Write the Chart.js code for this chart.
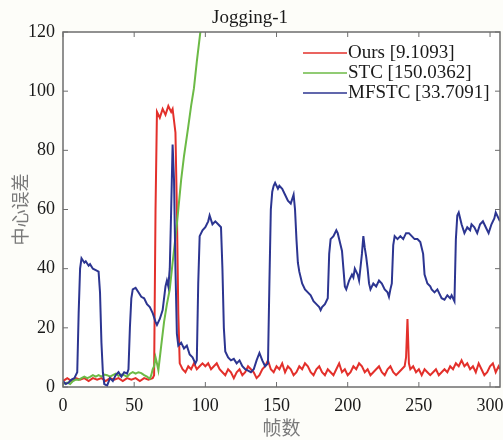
<!DOCTYPE html>
<html>
<head>
<meta charset="utf-8">
<script src="https://cdn.jsdelivr.net/npm/chart.js@4.4.0/dist/chart.umd.min.js"></script>
<style>
  html, body { margin: 0; padding: 0; background: #fdfdf9; }
  #wrap { width: 503px; height: 440px; }
</style>
</head>
<body>
<div id="wrap"><canvas id="jogChart"></canvas></div>
<script>
const chartTitle = 'Jogging-1';
const xTitle = '帧数';
const yTitle = '中心误差';
const xTicks = [0, 50, 100, 150, 200, 250, 300];
const yTicks = [0, 20, 40, 60, 80, 100, 120];

const seriesNames = ['Ours [9.1093]', 'STC [150.0362]', 'MFSTC [33.7091]'];
const seriesColors = ['#e3302b', '#6cba46', '#2c3591'];

// Ours
const framesOurs = [0, 3, 6, 9, 12, 15, 18, 21, 24, 27, 30, 33, 36, 39, 42, 45, 48, 51, 54, 57, 60, 63, 64,
  65, 66, 68, 70, 72, 74, 76, 77, 78, 79, 80, 81, 82, 84, 86, 88, 90, 92, 94, 96, 98, 100, 102, 104, 106,
  108, 110, 112, 114, 116, 118, 120, 122, 124, 126, 128, 130, 132, 134, 136, 138, 140, 142, 144, 146, 148,
  150, 152, 154, 156, 158, 160, 162, 164, 166, 168, 170, 172, 174, 176, 178, 180, 182, 184, 186, 188, 190,
  192, 194, 196, 198, 200, 202, 204, 206, 208, 210, 212, 214, 216, 218, 220, 222, 224, 226, 228, 230, 232,
  234, 236, 238, 240, 241, 242, 243, 244, 246, 248, 250, 252, 254, 256, 258, 260, 262, 264, 266, 268, 270,
  272, 274, 276, 278, 280, 282, 284, 286, 288, 290, 292, 294, 296, 298, 300, 302, 304, 306, 307];
const errOurs = [2, 3, 2, 3, 2.5, 3, 2, 3, 2.5, 3, 2, 3, 2.5, 3, 2, 3, 2.5, 3, 2, 3, 2.5, 3, 4,
  60, 93, 91, 94, 92, 95, 93, 94, 90, 86, 60, 25, 8, 6, 5, 7, 6, 8, 6, 7, 8, 7, 8, 6, 7,
  8, 6, 5, 4, 6, 5, 3, 5, 6, 4, 5, 7, 6, 5, 3, 4, 6, 7, 9, 6, 5,
  7, 6, 8, 5, 7, 6, 4, 5, 7, 6, 8, 7, 5, 4, 6, 7, 5, 4, 6, 5, 4,
  6, 8, 5, 6, 4, 5, 7, 6, 8, 7, 5, 6, 4, 5, 6, 7, 5, 4, 6, 7, 5,
  4, 5, 6, 7, 10, 23, 8, 6, 7, 5, 6, 4, 6, 5, 4, 5, 6, 4, 5, 6, 5,
  7, 6, 8, 7, 9, 7, 8, 6, 7, 5, 8, 6, 4, 5, 7, 8, 5, 7, 6];

// STC
const framesStc = [0, 3, 5, 7, 9, 11, 13, 15, 17, 19, 21, 23, 25, 27, 29, 31, 33, 35, 37, 39, 41, 43, 45,
  47, 49, 51, 53, 55, 57, 59, 61, 62, 63, 64, 65, 66, 67, 69, 71, 73, 75, 77, 80, 83, 85, 88, 90, 92, 94,
  96, 98, 100];
const errStc = [1, 1.5, 1, 2, 2.5, 2.4, 3, 3.5, 3, 3.4, 4, 3.5, 4, 3.5, 4.2, 4, 3.5, 4, 4.5, 3.8, 4.2, 4, 3.5,
  4.5, 5, 4.5, 5, 4.7, 4, 3.5, 2.8, 4, 6, 7, 10, 8, 5.7, 14, 22, 28, 33, 42, 55, 70, 78, 88, 95, 101, 110,
  118, 126, 132];

// MFSTC
const framesMfstc = [0, 2, 4, 6, 8, 10, 11, 12, 13, 15, 16, 18, 19, 21, 23, 25, 26, 27, 28, 29, 31, 33, 35,
  37, 39, 41, 43, 45, 46, 47, 48, 49, 51, 53, 55, 57, 59, 61, 63, 65, 66, 68, 70, 72, 73, 74, 75, 76, 77,
  78, 79, 80, 81, 83, 85, 87, 89, 91, 93, 94, 95, 96, 98, 100, 102, 103, 105, 107, 109, 111, 112, 113, 114,
  116, 118, 120, 122, 124, 126, 128, 130, 132, 134, 136, 138, 140, 142, 144, 145, 146, 147, 148, 149, 151,
  152, 154, 156, 158, 160, 162, 163, 164, 165, 166, 168, 170, 172, 174, 176, 178, 180, 181, 182, 184, 186,
  187, 188, 190, 192, 193, 195, 196, 197, 198, 199, 201, 203, 204, 205, 207, 208, 210, 211, 212, 213, 214,
  215, 216, 218, 220, 222, 224, 226, 228, 229, 230, 231, 232, 233, 235, 237, 239, 241, 243, 245, 247, 249,
  251, 253, 254, 256, 258, 259, 261, 263, 264, 266, 268, 270, 272, 273, 275, 276, 277, 278, 280, 282, 284,
  286, 287, 289, 291, 293, 295, 297, 299, 301, 303, 304, 306, 307];
const errMfstc = [2, 1, 1.5, 2.5, 3, 5, 25, 40, 43.5, 42, 42.5, 41, 41.5, 40, 39.5, 39, 32, 15, 5, 1, 0.5, 3, 2,
  4, 5, 3.5, 5, 4.5, 6, 20, 30, 33, 33.5, 32, 30.5, 30, 28, 27, 25, 22, 21, 23, 26, 34, 36, 34, 40, 60, 82,
  70, 40, 18, 14, 15, 13, 14, 11, 10, 8, 9, 35, 51, 53, 54, 56, 58, 55, 56, 55, 54, 40, 20, 12,
  10, 9, 9.5, 8, 9, 7, 6, 5.5, 5, 6, 9, 11.5, 9, 7, 8, 35, 60, 66, 68, 69, 67,
  68, 67, 65, 63, 62, 65, 60, 50, 42, 39, 35, 33, 32, 31, 29, 28, 27, 26, 27, 28, 30,
  45, 50, 51, 53, 52, 48, 46, 40, 34, 33, 36, 38, 37, 40, 38, 36, 45, 51, 47, 44, 40,
  35, 33, 35, 34, 36, 35, 33, 32, 30.5, 33, 35, 48, 51, 50, 51, 50, 52, 52, 51, 50, 50,
  49, 45, 38, 35, 34, 33, 32, 33, 32, 30, 29.5, 31, 30, 31, 29, 50, 58, 59, 55, 52, 54,
  53, 55, 54, 52, 55, 56, 54, 52, 55, 57, 59, 57, 56];

const serif = '"Liberation Serif", "Times New Roman", serif';
const cjk = '"Noto Sans CJK SC", "Liberation Serif", sans-serif';

function toPoints(xs, ys) {
  return xs.map((x, i) => ({ x: x, y: ys[i] }));
}

// white plot area on a cream page
const plotBackground = {
  id: 'plotBackground',
  beforeDraw(chart) {
    const { ctx, chartArea: a } = chart;
    ctx.save();
    ctx.fillStyle = '#fdfdf9';
    ctx.fillRect(0, 0, chart.width, chart.height);
    ctx.fillStyle = '#ffffff';
    ctx.fillRect(a.left, a.top, a.right - a.left, a.bottom - a.top);
    ctx.restore();
  }
};

// matlab style box with inward ticks
const boxAndTicks = {
  id: 'boxAndTicks',
  afterDatasetsDraw(chart) {
    const { ctx, chartArea: a, scales } = chart;
    const len = 5;
    ctx.save();
    ctx.strokeStyle = '#6e6e6e';
    ctx.lineWidth = 1.5;
    ctx.strokeRect(a.left, a.top, a.right - a.left, a.bottom - a.top);
    ctx.lineWidth = 1;
    ctx.beginPath();
    xTicks.forEach(v => {
      const px = scales.x.getPixelForValue(v);
      ctx.moveTo(px, a.bottom); ctx.lineTo(px, a.bottom - len);
      ctx.moveTo(px, a.top); ctx.lineTo(px, a.top + len);
    });
    yTicks.forEach(v => {
      const py = scales.y.getPixelForValue(v);
      ctx.moveTo(a.left, py); ctx.lineTo(a.left + len, py);
      ctx.moveTo(a.right, py); ctx.lineTo(a.right - len, py);
    });
    ctx.stroke();
    ctx.restore();
  }
};

// legend inside the top right corner
const innerLegend = {
  id: 'innerLegend',
  afterDraw(chart) {
    const { ctx, chartArea: a } = chart;
    const x0 = a.right - 197;
    const rows = [a.top + 21, a.top + 41, a.top + 61];
    ctx.save();
    ctx.font = '19px ' + serif;
    ctx.textBaseline = 'middle';
    chart.data.datasets.forEach((ds, i) => {
      const y = rows[i];
      ctx.strokeStyle = ds.borderColor;
      ctx.lineWidth = 1.5;
      ctx.beginPath();
      ctx.moveTo(x0, y);
      ctx.lineTo(x0 + 44, y);
      ctx.stroke();
      ctx.fillStyle = '#1a1a1a';
      ctx.fillText(ds.label, x0 + 45, y);
    });
    ctx.restore();
  }
};

const ctx = document.getElementById('jogChart').getContext('2d');

new Chart(ctx, {
  type: 'line',
  data: {
    datasets: [
      { label: seriesNames[0], data: toPoints(framesOurs, errOurs), borderColor: seriesColors[0], order: 3 },
      { label: seriesNames[1], data: toPoints(framesStc, errStc), borderColor: seriesColors[1], order: 2 },
      { label: seriesNames[2], data: toPoints(framesMfstc, errMfstc), borderColor: seriesColors[2], order: 1 }
    ]
  },
  options: {
    responsive: true,
    maintainAspectRatio: false,
    animation: false,
    datasets: {
      line: { borderWidth: 2, pointRadius: 0, tension: 0, fill: false }
    },
    layout: { padding: { left: 0, right: 3, top: 0, bottom: 0 } },
    plugins: {
      legend: { display: false },
      tooltip: { enabled: false },
      title: {
        display: true,
        text: chartTitle,
        color: '#1a1a1a',
        font: { family: serif, size: 19, weight: 'normal', lineHeight: 1.2 },
        padding: { top: 7, bottom: 2.2 }
      }
    },
    scales: {
      x: {
        type: 'linear',
        min: 0,
        max: 307,
        grid: { display: false, drawTicks: false },
        border: { display: false },
        ticks: {
          stepSize: 50,
          includeBounds: false,
          autoSkip: false,
          maxRotation: 0,
          padding: 8,
          color: '#1a1a1a',
          font: { family: serif, size: 18 }
        },
        title: {
          display: true,
          text: xTitle,
          color: '#7a7a7a',
          font: { family: cjk, size: 19, lineHeight: 1.2 },
          padding: { top: 0, bottom: 1 }
        },
        afterFit(scale) {
          scale.height = 53;
          scale.paddingLeft = 0;
          scale.paddingRight = 0;
        }
      },
      y: {
        min: 0,
        max: 120,
        grid: { display: false, drawTicks: false },
        border: { display: false },
        ticks: {
          stepSize: 20,
          padding: 8,
          color: '#1a1a1a',
          font: { family: serif, size: 18 }
        },
        title: {
          display: true,
          text: yTitle,
          color: '#7a7a7a',
          font: { family: cjk, size: 18, lineHeight: 1.2 },
          padding: { top: 9, bottom: 0 }
        },
        afterFit(scale) { scale.width = 63; }
      }
    }
  },
  plugins: [plotBackground, boxAndTicks, innerLegend]
});
</script>
</body>
</html>
